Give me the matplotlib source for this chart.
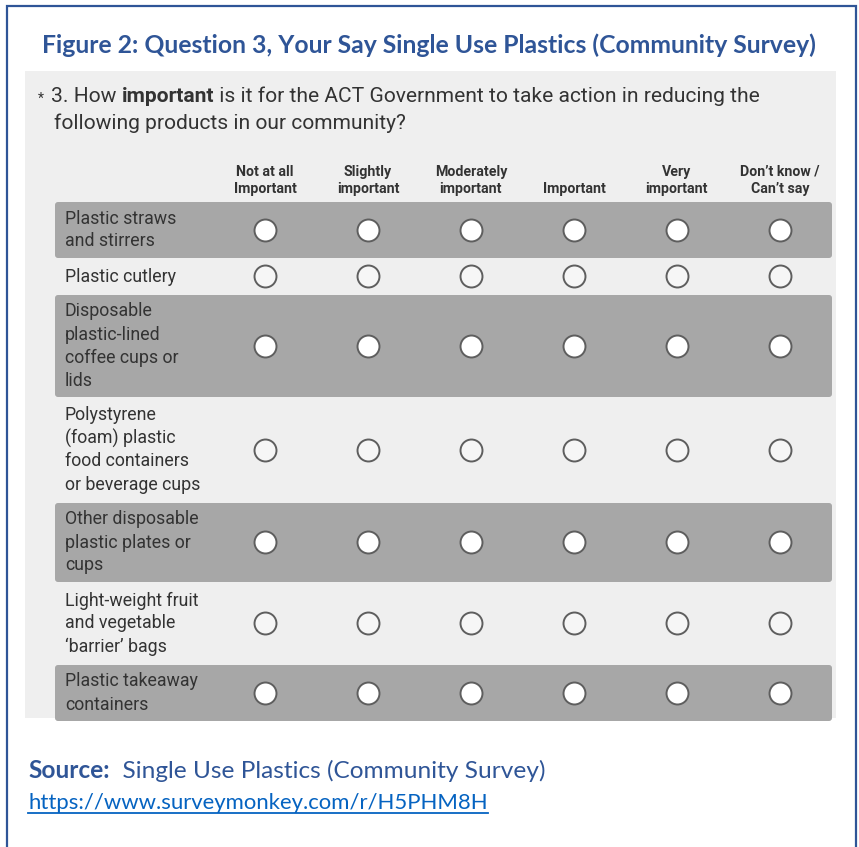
import matplotlib.pyplot as plt
from matplotlib.patches import Rectangle, FancyBboxPatch

# --- Inhalt ---
title = "Figure 2: Question 3, Your Say Single Use Plastics (Community Survey)"
question_parts = [("3. How ", "normal"), ("important", "bold"),
                  (" is it for the ACT Government to take action in reducing the", "normal")]
question_line2 = "following products in our community?"
columns = ["Not at all\nImportant", "Slightly\nimportant", "Moderately\nimportant",
           "Important", "Very\nimportant", "Don\u2019t know /\nCan\u2019t say"]
products = ["Plastic straws\nand stirrers",
            "Plastic cutlery",
            "Disposable\nplastic-lined\ncoffee cups or\nlids",
            "Polystyrene\n(foam) plastic\nfood containers\nor beverage cups",
            "Other disposable\nplastic plates or\ncups",
            "Light-weight fruit\nand vegetable\n\u2018barrier\u2019 bags",
            "Plastic takeaway\ncontainers"]
source_label = "Source:"
source_text = "  Single Use Plastics (Community Survey)"
source_url = "https://www.surveymonkey.com/r/H5PHM8H"

# --- Layout (Pixel) ---
W, H = 859, 847
blue = "#2F5597"
link = "#0563C1"
dark = "#a7a7a7"
panel = "#efefef"
txt = "#333333"
survey_font = "Roboto"
title_font = "Lato"

col_x0, col_step = 265, 103
row_top, line_h, row_pad = 201, 23, 12

fig = plt.figure(figsize=(W / 100, H / 100), dpi=100)
ax = fig.add_axes([0, 0, 1, 1])
ax.set_xlim(0, W)
ax.set_ylim(H, 0)
ax.axis("off")

# Rahmen
ax.plot([7, 7, 856, 856], [H + 5, 6, 6, H + 5], color=blue, lw=1.6,
        solid_joinstyle="miter")

ax.text(W / 2 - 1, 45, title, ha="center", va="center", color=blue,
        fontsize=17.8, fontweight="bold", family=title_font)

# Graues Umfrage-Panel
ax.add_patch(Rectangle((25, 71), 811, 647, color=panel, lw=0))

# Frage
ast = ax.text(38, 103, "*  ", fontsize=10, color=txt, family=survey_font, va="baseline")
prev = ast
for part, weight in question_parts:
    prev = ax.annotate(part, xy=(1, 0), xycoords=prev, va="bottom",
                       fontsize=15.1, fontweight=weight, color=txt, family=survey_font)
ax.text(54, 129, question_line2, fontsize=15.1, color=txt, family=survey_font,
        va="baseline")

# Spaltenköpfe
for j, col in enumerate(columns):
    lines = col.split("\n")
    for k, line in enumerate(lines):
        y = 189 - (len(lines) - 1 - k) * 17
        ax.text(col_x0 + j * col_step, y, line, ha="center", va="center",
                fontsize=10.2, fontweight="bold", color=txt, family=survey_font)

# Zeilen
y0 = row_top
for i, prod in enumerate(products):
    lines = prod.split("\n")
    h = line_h * len(lines) + row_pad
    yc = y0 + h / 2
    shaded = i % 2 == 0
    if shaded:
        ax.add_patch(FancyBboxPatch((55, y0 + 1), 777, h - 2,
                                    boxstyle="round,pad=0,rounding_size=3",
                                    fc=dark, ec="none"))
    for k, line in enumerate(lines):
        ax.text(65, yc + (k - (len(lines) - 1) / 2) * line_h, line, va="center",
                ha="left", fontsize=12.8, color=txt, family=survey_font)
    xs = [col_x0 + j * col_step for j in range(len(columns))]
    ax.scatter(xs, [yc] * len(xs), s=250, marker="o",
               facecolor="white" if shaded else "#f6f6f6",
               edgecolor="#5e5e5e", linewidth=1.4, zorder=3)
    y0 += h

# Quelle
src = ax.text(28, 778, source_label, fontsize=17.6, fontweight="bold", color=blue,
              family=title_font, va="baseline")
ax.annotate(source_text, xy=(1, 0), xycoords=src, va="bottom",
            fontsize=17.6, color=blue, family=title_font)
url = ax.text(28, 809, source_url, fontsize=15.9, color=link, family=title_font,
              va="baseline")

fig.canvas.draw()
bb = url.get_window_extent().transformed(ax.transData.inverted())
ax.plot([bb.x0, bb.x1], [813, 813], color=link, lw=1.3)

plt.savefig("out.png", dpi=100)
